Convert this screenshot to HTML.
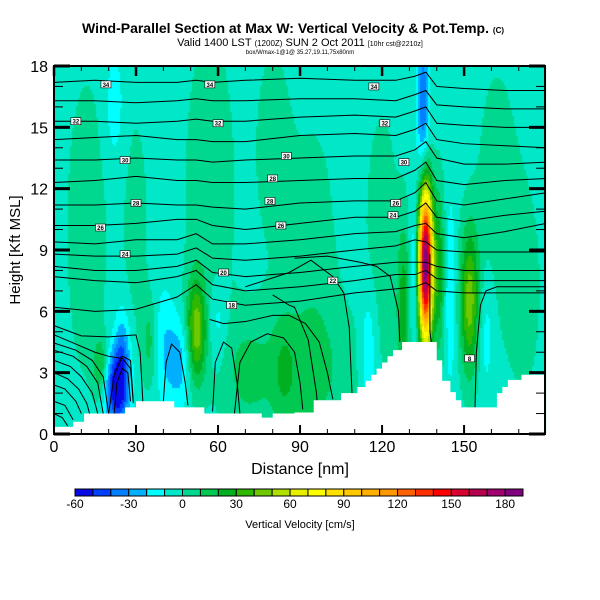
<!DOCTYPE html>
<html><head><meta charset="utf-8"><style>
html,body{margin:0;padding:0;background:#fff;width:600px;height:600px;overflow:hidden;font-family:"Liberation Sans",sans-serif}
#wrap{position:relative;width:600px;height:600px}
canvas,svg{position:absolute;left:0;top:0}
</style></head><body>
<div id="wrap">
<canvas id="cv" width="600" height="600"></canvas>
<svg id="sv" width="600" height="600"></svg>
</div>
<script>
// ---- data ----
const levelColors = ["#0808e6","#0040ff","#0080ff","#00b0ff","#00ffff","#00e8c8","#00d890","#00c850","#00b020","#30b800","#70c800","#b0e000","#e8f000","#ffff00","#ffe000","#ffc800","#ffb000","#ff9800","#ff6000","#ff3000","#ff0000","#d80030","#b80050","#a00070","#800080"];
const cbTicks = [-60,-30,0,30,60,90,120,150,180];
const xTicks = [0,30,60,90,120,150];
const yTicks = [0,3,6,9,12,15,18];
// velocity blobs: centre x (nm), centre z (km), amplitude (cm/s), spread x, spread z
const blobX = [12,30,57,80,95,120,162,172,22, 52,46,40,60,35,23,25,17,70,90,84,115,128,131.5,136,135,141,145,152,158];
const blobZ = [10,10,12,14,8,10,12,7,16, 5,3.5,4.5,5.5,4.5,2.2,4,3.3,3,3,3,4,6,8,8.3,16,8,7,6.5,5];
const blobV = [10,8,11,9,9,9,9,9,-12, 50,-22,-12,-14,18,-55,-25,25,12,15,12,-18,30,-18,195,-35,30,-15,50,-12];
const blobSX = [6,4,7,5,7,5,6,5,2.5, 2.5,3.5,3,2.5,2,3,2,1.8,6,15,3,2,1.8,1.2,1.8,1.5,1.5,1.5,2.5,2];
const blobSZ = [6,5,6,4,6,5,5,4,2, 1.8,1.5,2,1.5,1.5,1.3,1.5,1,2,2.5,2,2,3,2.5,2.6,2.5,3,3,2.5,2];
const baseValue = -5;
// terrain staircase: segment start x (nm) and height (km)
const terrX = [0,7,11,26,30,44,55,76,80,88,95,105,111,114,116,118,120,122,124,127.3,140,142,145,147,149,156,162,164,166,171];
const terrZ = [0.35,0.6,1.0,1.3,1.6,1.3,1.0,0.8,1.0,1.05,1.65,2.0,2.3,2.6,2.9,3.2,3.5,3.8,4.1,4.5,3.6,2.6,2.05,1.65,1.3,1.3,2.0,2.3,2.65,2.9];
// isentropes (upper family) on shared nodes
const isoX = [0,15,30,45,52,58,70,90,110,125,132,136,140,150,165,180];
const isoUpper = [
[17.2,17.3,17.2,17.2,17.3,17.2,17.3,17.4,17.3,17.3,17.5,17.7,17.0,16.9,16.8,16.8],
[16.3,16.3,16.2,16.3,16.4,16.3,16.3,16.4,16.4,16.3,16.6,16.8,16.1,16.0,15.9,15.9],
[15.3,15.3,15.2,15.3,15.4,15.3,15.3,15.5,15.6,15.5,15.8,16.0,15.2,15.1,15.0,15.0],
[14.4,14.5,14.6,14.4,14.4,14.3,14.3,14.6,14.7,14.6,14.9,15.2,14.4,14.2,14.1,14.0],
[13.4,13.4,13.5,13.4,13.4,13.3,13.4,13.5,13.6,13.6,13.9,14.3,13.5,13.2,13.2,13.3],
[12.3,12.4,12.6,12.4,12.4,12.3,12.3,12.4,12.5,12.5,12.9,13.3,12.4,12.2,12.4,12.5],
[11.2,11.2,11.3,11.2,11.2,11.1,11.0,11.3,11.4,11.4,11.8,12.3,11.4,11.2,11.5,11.8],
[10.2,10.2,10.3,10.5,10.5,10.2,10.0,10.3,10.6,10.6,10.9,11.3,10.6,10.4,10.7,10.9],
[9.4,9.3,9.5,9.5,9.8,9.3,9.3,9.5,9.8,9.9,10.2,10.3,9.8,9.6,9.9,10.3],
[8.8,8.7,8.7,8.8,9.1,8.6,8.5,8.7,9.0,9.2,9.5,9.4,9.0,8.9,8.9,8.9],
[8.2,8.0,8.0,8.2,8.5,7.9,7.7,7.9,8.2,8.4,8.4,8.4,8.2,8.0,8.0,8.0],
[7.7,7.5,7.4,7.7,8.0,7.3,7.0,7.2,7.5,7.8,7.8,8.0,7.6,7.5,7.5,7.5],
[6.2,6.0,6.1,6.7,7.3,6.6,6.3,6.5,6.9,7.1,7.2,7.4,7.0,6.9,6.9,6.9]
];
// lower isentropes as explicit (nm, km) polylines
const isoLower = [
[[0,5.3],[10,4.8],[20,4.75],[30,4.85],[31.5,4.0],[32.5,1.6]],
[[0,4.85],[8,4.4],[15,4.0],[20,3.8],[25,3.7],[28,3.2],[29,1.5]],
[[0,4.45],[8,4.1],[14,3.6],[18,2.8],[20,1.0]],
[[0,4.1],[7,3.8],[12,3.3],[16,2.5],[18,1.0]],
[[0,3.6],[6,3.3],[10,2.8],[14,2.0],[16,1.0]],
[[0,3.0],[5,2.7],[9,2.2],[12,1.5],[13,1.0]],
[[0,2.4],[4,2.2],[8,1.6],[10,1.0]],
[[0,1.6],[4,1.4],[7,0.7]],
[[0,1.0],[3,0.8],[5,0.4]],
[[22,1.0],[23,2.5],[25,3.2],[27,3.0],[28,1.6]],
[[20,1.0],[22,2.9],[25,3.8],[28,3.6],[29,1.6]],
[[40,1.6],[41,3.5],[43,4.4],[46,4.0],[48,2.5],[49,1.4]],
[[58,1.1],[59,3.5],[62,4.5],[65,4.2],[67,2.5],[68,1.0]],
[[57,5.6],[62,5.4],[70,5.5],[80,5.8],[86,5.8],[92,5.4],[97,4.5],[100,3.0],[102,1.7]],
[[66,1.0],[68,3.5],[72,4.5],[78,4.9],[84,4.7],[88,4.0],[90,2.5],[91,1.2]],
[[70,7.2],[86,7.9],[94,8.5],[102,7.7],[106,6.9],[108,5.2],[109,2.0]],
[[80,6.8],[86,6.3],[88,6.2],[93,4.6],[96,2.0],[96.5,1.2]],
[[88,8.6],[100,8.7],[112,8.4],[118,8.2],[123,7.7],[126,6.0],[126.5,4.5]],
[[154,1.3],[154.5,4],[156,6.3],[158,7.0],[162,7.2],[180,7.2]],
[[137.5,8.8],[137.5,5],[138,4.5]]
];
// contour label positions (nm, km)
const lblX = [19,8,26,30,17,26,57,60,62,65,85,79,80,83,102,117,121,128,125,124,152];
const lblZ = [17.1,15.3,13.4,11.3,10.1,8.8,17.1,15.2,7.9,6.3,13.6,11.4,12.5,10.2,7.5,17.0,15.2,13.3,11.3,10.7,3.7];
const lblT = ["34","32","30","28","26","24","34","32","20","18","30","28","28","26","22","34","32","30","26","24","8"];

// ---- axes ----
const X0=54,X1=545,Y0=434,Y1=66,XMAX=179.6,ZMAX=18;
const sx = x => X0 + x*(X1-X0)/XMAX;
const sy = z => Y0 - z*(Y0-Y1)/ZMAX;
const NS="http://www.w3.org/2000/svg";
const svg=document.getElementById('sv');
function mk(tag,attrs,parent){const e=document.createElementNS(NS,tag);for(const k in attrs)e.setAttribute(k,attrs[k]);(parent||svg).appendChild(e);return e;}

// ---- field ----
function field(x,z){let v=baseValue;for(let i=0;i<blobX.length;i++){const dx=(x-blobX[i])/blobSX[i],dz=(z-blobZ[i])/blobSZ[i];v+=blobV[i]*Math.exp(-0.5*(dx*dx+dz*dz));}return v;}
function colorFor(v){let i=Math.floor((v+60)/10);if(i<0)i=0;if(i>24)i=24;return levelColors[i];}
const ctx=document.getElementById('cv').getContext('2d');
for(let py=Y1;py<Y0;py+=2){for(let px=X0;px<X1;px+=2){
  const x=(px+1-X0)*XMAX/(X1-X0), z=(Y0-(py+1))*ZMAX/(Y0-Y1);
  ctx.fillStyle=colorFor(field(x,z));ctx.fillRect(px,py,2,2);}}

// ---- isentropes ----
const gIso=mk('g',{fill:'none',stroke:'#000','stroke-width':1});


isoUpper.forEach((line,k)=>{
  const p=mk('polyline',{points:line.map((z,i)=>sx(isoX[i])+','+sy(z)).join(' ')},gIso);
  
  
});
isoLower.forEach((line,k)=>{
  const p=mk('polyline',{points:line.map(q=>sx(q[0])+','+sy(q[1])).join(' ')},gIso);
  
  
});
// ---- terrain ----
let tp=[[sx(0),sy(0)]];
for(let i=0;i<terrX.length;i++){const xe=i+1<terrX.length?terrX[i+1]:XMAX;tp.push([sx(terrX[i]),sy(terrZ[i])]);tp.push([sx(xe),sy(terrZ[i])]);}
tp.push([sx(XMAX),sy(0)]);
const terr=mk('polygon',{points:tp.map(p=>p.join(',')).join(' '),fill:'#fff',stroke:'none'});


// ---- contour labels ----
lblX.forEach((x,i)=>{
  const g=mk('g',{});
  
  
  mk('rect',{x:sx(x)-5,y:sy(lblZ[i])-3.5,width:10,height:7,fill:'#fff',stroke:'#000','stroke-width':0.6},g);
  const t=mk('text',{x:sx(x),y:sy(lblZ[i])+2.5,'font-size':6,'text-anchor':'middle','font-weight':'bold'},g);t.textContent=lblT[i];
});
// ---- frame & ticks ----
const frame=mk('rect',{x:X0,y:Y1,width:X1-X0,height:Y0-Y1,fill:'none',stroke:'#000','stroke-width':2});


const gT=mk('g',{stroke:'#000'});


for(let x=0;x<=170;x+=10){const maj=x%30===0;
  mk('line',{x1:sx(x),x2:sx(x),y1:Y0,y2:Y0-(maj?9:5),'stroke-width':maj?2:1},gT);
  mk('line',{x1:sx(x),x2:sx(x),y1:Y1,y2:Y1+(maj?10:5),'stroke-width':maj?2.5:1},gT);}
for(let z=0;z<=18;z++){const maj=z%3===0;
  mk('line',{x1:X0,x2:X0+(maj?16:9),y1:sy(z),y2:sy(z),'stroke-width':maj?3:1},gT);
  mk('line',{x1:X1,x2:X1-(maj?16:9),y1:sy(z),y2:sy(z),'stroke-width':maj?3:1},gT);}
xTicks.forEach(x=>{const t=mk('text',{x:sx(x),y:452,'font-size':16,'text-anchor':'middle'});t.textContent=x;
  });
yTicks.forEach(z=>{const t=mk('text',{x:48,y:sy(z)+6,'font-size':16,'text-anchor':'end'});t.textContent=z;
  });
// ---- colorbar ----
const CB0=75,CBW=17.92,CBY=489,CBH=7;
levelColors.forEach((c,i)=>{const r=mk('rect',{x:CB0+i*CBW,y:CBY,width:CBW,height:CBH,fill:c,stroke:'#000','stroke-width':1});
  });
cbTicks.forEach(v=>{const t=mk('text',{x:CB0+(v+60)/10*CBW,y:508,'font-size':12,'text-anchor':'middle'});t.textContent=v;
  });
</script>
<svg width="600" height="600" style="position:absolute;left:0;top:0;pointer-events:none">
<text x="293" y="33" font-size="14" font-weight="bold" text-anchor="middle">Wind-Parallel Section at Max W: Vertical Velocity &amp; Pot.Temp. <tspan font-size="8">(C)</tspan></text>
<text x="300" y="46" font-size="11" text-anchor="middle">Valid 1400 LST <tspan font-size="8">(1200Z)</tspan> SUN 2 Oct 2011 <tspan font-size="7">[10hr cst@2210z]</tspan></text>
<text x="300" y="54" font-size="6" text-anchor="middle">box/Wmax-1@1@ 35.27,19.11,75x80nm</text>
<text x="300" y="474" font-size="16" text-anchor="middle">Distance [nm]</text>
<text x="20" y="250" font-size="15" text-anchor="middle" transform="rotate(-90 20 250)">Height [Kft MSL]</text>
<text x="300" y="528" font-size="11" text-anchor="middle">Vertical Velocity [cm/s]</text>
</svg>
</body></html>
